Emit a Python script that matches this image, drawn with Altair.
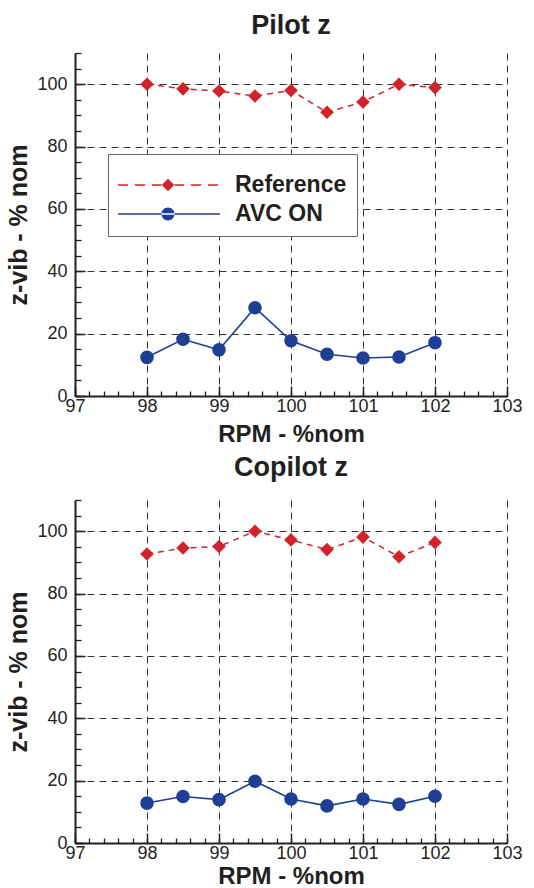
import altair as alt
import pandas as pd

# ---------------- data ----------------
rpm = [98, 98.5, 99, 99.5, 100, 100.5, 101, 101.5, 102]
pilot_ref = [100.0, 98.5, 97.8, 96.2, 98.0, 91.0, 94.3, 100.0, 98.9]
pilot_avc = [12.4, 18.2, 14.8, 28.3, 17.7, 13.4, 12.2, 12.5, 17.1]
copilot_ref = [92.7, 94.6, 95.1, 100.0, 97.2, 94.1, 98.1, 91.8, 96.4]
copilot_avc = [12.8, 14.9, 13.9, 19.8, 14.1, 11.9, 14.1, 12.4, 15.0]

series = ["Reference", "AVC ON"]
x_major = [97, 98, 99, 100, 101, 102, 103]
x_minor = [97 + i / 5 for i in range(31)]
y_major = [0, 20, 40, 60, 80, 100]
y_minor = [i * 5 for i in range(23)]

# ---------------- style ----------------
W, H = 432, 343
FONT = "Liberation Sans"
INK = "#231f20"
RED = "#d3232a"
BLUE = "#1f3f94"
GRID = "#333333"

# legend symbols: line + marker drawn in unit square (-1..1)
def rect(x0, x1, h):
    return f"M{x0},{-h}H{x1}V{h}H{x0}Z"

ref_path = "".join(rect(a, b, 0.014) for a, b in
                   [(-1, -0.8), (-0.66, -0.46), (-0.32, -0.13), (0.13, 0.32), (0.46, 0.66), (0.8, 1)])
ref_path += "M0,-0.125L0.125,0L0,0.125L-0.125,0Z"
avc_path = rect(-1, 1.04, 0.016) + "M-0.13,0A0.13,0.13 0 1,0 0.13,0A0.13,0.13 0 1,0 -0.13,0Z"

xs = alt.Scale(domain=[97, 103], nice=False, zero=False)
ys = alt.Scale(domain=[0, 110], nice=False, zero=False)


def panel(title, ref, avc, with_legend, title_offset, x_title_pad):
    df = pd.DataFrame({
        "rpm": rpm + rpm,
        "val": ref + avc,
        "series": ["Reference"] * len(rpm) + ["AVC ON"] * len(rpm),
    })
    base = alt.Chart(df)

    main_x = alt.Axis(values=x_major, format="d", grid=True, gridDash=[7, 5], gridColor=GRID,
                      gridWidth=1, ticks=False, domain=True, domainColor=INK, domainWidth=2,
                      labelFont=FONT, labelFontSize=18, labelColor=INK, labelPadding=1,
                      labelFlush=False, labelOverlap=False,
                      title="RPM - %nom", titleFont=FONT, titleFontSize=24, titleFontWeight="bold",
                      titleColor=INK, titlePadding=x_title_pad)
    main_y = alt.Axis(values=y_major, format="d", grid=True, gridDash=[7, 5], gridColor=GRID,
                      gridWidth=1, ticks=False, domain=True, domainColor=INK, domainWidth=2,
                      labelFont=FONT, labelFontSize=18, labelColor=INK, labelPadding=8,
                      labelFlush=False, labelOverlap=False,
                      title="z-vib - % nom", titleFont=FONT, titleFontSize=25, titleFontWeight="bold",
                      titleColor=INK, titlePadding=5)

    ref_line = base.transform_filter(alt.datum.series == "Reference").mark_line(
        color=RED, strokeDash=[6, 5], strokeWidth=1.5
    ).encode(x=alt.X("rpm:Q", scale=xs, axis=main_x), y=alt.Y("val:Q", scale=ys, axis=main_y))

    avc_line = base.transform_filter(alt.datum.series == "AVC ON").mark_line(
        color=BLUE, strokeWidth=1.6
    ).encode(x=alt.X("rpm:Q", scale=xs, axis=None), y=alt.Y("val:Q", scale=ys, axis=None))

    ref_pts = base.transform_filter(alt.datum.series == "Reference").mark_point(
        shape="diamond", filled=True, color=RED, size=185, opacity=1
    ).encode(x=alt.X("rpm:Q", scale=xs, axis=None), y=alt.Y("val:Q", scale=ys, axis=None))

    avc_pts = base.transform_filter(alt.datum.series == "AVC ON").mark_point(
        shape="circle", filled=True, color=BLUE, size=185, opacity=1
    ).encode(x=alt.X("rpm:Q", scale=xs, axis=None), y=alt.Y("val:Q", scale=ys, axis=None))

    # inward tick marks (minor and major) drawn as extra axes on the same scales
    minor_ticks = base.transform_filter("false").mark_point().encode(
        x=alt.X("rpm:Q", scale=xs, axis=alt.Axis(orient="top", offset=-H, values=x_minor, tickSize=5,
                                                 tickColor=INK, tickWidth=1.3, labels=False,
                                                 domain=False, grid=False, title=None)),
        y=alt.Y("val:Q", scale=ys, axis=alt.Axis(orient="right", offset=-W, values=y_minor, tickSize=6,
                                                 tickColor=INK, tickWidth=1.3, labels=False,
                                                 domain=False, grid=False, title=None)),
    )
    major_ticks = base.transform_filter("false").mark_point().encode(
        x=alt.X("rpm:Q", scale=xs, axis=alt.Axis(orient="top", offset=-H, values=x_major, tickSize=10,
                                                 tickColor=INK, tickWidth=1.5, labels=False,
                                                 domain=False, grid=False, title=None)),
        y=alt.Y("val:Q", scale=ys, axis=alt.Axis(orient="right", offset=-W, values=y_major, tickSize=10,
                                                 tickColor=INK, tickWidth=1.5, labels=False,
                                                 domain=False, grid=False, title=None)),
    )

    layers = [ref_line, avc_line, ref_pts, avc_pts, minor_ticks, major_ticks]

    if with_legend:
        leg = dict(orient="none", legendX=33, legendY=101, title=" ", titleFontSize=6, titlePadding=4,
                   labelFont=FONT, labelFontSize=23, labelFontWeight="bold", labelColor=INK,
                   labelOffset=17, symbolSize=10000, symbolStrokeWidth=0, symbolOpacity=1,
                   clipHeight=22,
                   strokeColor="#666666", fillColor="white", padding=10, rowPadding=6)
        legend_layer = alt.Chart(pd.DataFrame({"series": series})).transform_filter("false").mark_point(
            filled=True, opacity=1
        ).encode(
            color=alt.Color("series:N", scale=alt.Scale(domain=series, range=[RED, BLUE]),
                            legend=alt.Legend(**leg)),
            shape=alt.Shape("series:N", scale=alt.Scale(domain=series, range=[ref_path, avc_path]),
                            legend=alt.Legend(**leg)),
        )
        layers.append(legend_layer)

    return alt.layer(*layers).resolve_axis(x="independent", y="independent").properties(
        width=W, height=H,
        title=alt.TitleParams(title, font=FONT, fontSize=27, fontWeight="bold", color=INK,
                              anchor="middle", offset=title_offset),
    )


top = panel("Pilot z", pilot_ref, pilot_avc, True, 12, 7)
bottom = panel("Copilot z", copilot_ref, copilot_avc, False, 17, 2)

chart = alt.vconcat(top, bottom, spacing=8).resolve_legend(
    color="independent", shape="independent"
).resolve_scale(color="independent", shape="independent").properties(
    padding={"left": 6, "top": 12, "right": 0, "bottom": 0},
    background="white",
).configure_view(stroke=None)

chart.save("out.html", embed_options={"renderer": "svg", "actions": False})
